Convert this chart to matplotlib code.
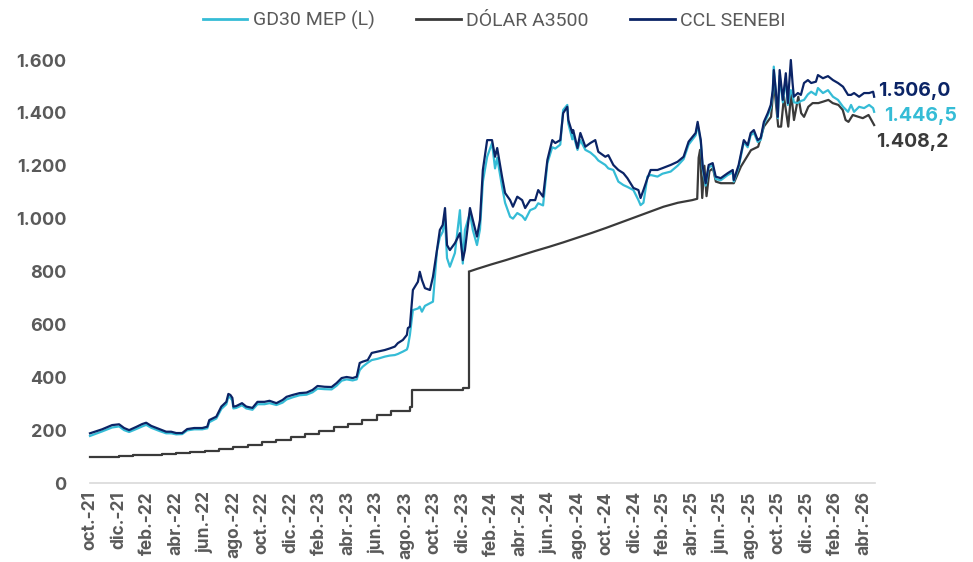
import matplotlib
matplotlib.use("Agg")
import matplotlib.pyplot as plt
from matplotlib.ticker import FuncFormatter, FixedLocator
from matplotlib.lines import Line2D

# ---- x axis: months since 1-Oct-2021 ----
tick_labels = ["oct.-21", "dic.-21", "feb.-22", "abr.-22", "jun.-22", "ago.-22", "oct.-22",
               "dic.-22", "feb.-23", "abr.-23", "jun.-23", "ago.-23", "oct.-23", "dic.-23",
               "feb.-24", "abr.-24", "jun.-24", "ago.-24", "oct.-24", "dic.-24", "feb.-25",
               "abr.-25", "jun.-25", "ago.-25", "oct.-25", "dic.-25", "feb.-26", "abr.-26"]
tick_months = [2 * i for i in range(len(tick_labels))]

# ---- CCL SENEBI and GD30 MEP (same sample dates) ----
t_fin = [0.0, 0.84, 1.54, 2.03, 2.38, 2.73, 3.22, 3.64, 3.92, 4.27, 4.83, 5.31, 5.66, 6.01,
         6.43, 6.78, 7.27, 7.83, 8.18, 8.32, 8.81, 9.16, 9.51, 9.65, 9.79, 9.93, 10.0, 10.2,
         10.6, 10.9, 11.33, 11.68, 12.17, 12.52, 13.0, 13.43, 13.71, 14.13, 14.62, 15.1, 15.52,
         15.87, 16.36, 16.85, 17.2, 17.55, 17.9, 18.32, 18.6, 18.81, 19.02, 19.37, 19.65, 20.07,
         20.56, 20.91, 21.26, 21.47, 21.82, 22.1, 22.17, 22.31, 22.52, 22.87, 23.0, 23.15, 23.36,
         23.71, 23.92, 24.2, 24.4, 24.6, 24.76, 24.9, 25.1, 25.45, 25.8, 26.0, 26.15, 26.5, 26.7,
         26.99, 27.2, 27.4, 27.7, 28.04, 28.25, 28.4, 28.74, 28.95, 29.3, 29.5, 29.8, 30.14,
         30.35, 30.7, 31.05, 31.26, 31.6, 31.9, 32.24, 32.45, 32.8, 33.0, 33.29, 33.36, 33.64,
         33.7, 34.0, 34.2, 34.55, 34.9, 35.24, 35.45, 35.94, 36.15, 36.5, 36.85, 37.2, 37.48,
         37.9, 38.25, 38.4, 38.6, 38.88, 39.1, 39.58, 39.93, 40.5, 40.98, 41.4, 41.75, 42.24,
         42.38, 42.6, 42.73, 42.94, 43.15, 43.43, 43.64, 43.99, 44.48, 44.83, 44.9, 45.24, 45.6,
         45.87, 46.08, 46.3, 46.57, 46.78, 47.0, 47.27, 47.48, 47.62, 47.69, 47.83, 47.97, 48.1,
         48.32, 48.53, 48.67, 48.88, 49.0, 49.09, 49.37, 49.58, 49.8, 50.07, 50.3, 50.63, 50.77,
         51.12, 51.47, 51.82, 52.17, 52.52, 52.87, 53.08, 53.29, 53.64, 53.99, 54.34, 54.62, 54.69]

ccl = [188, 203, 219, 222, 208, 200, 212, 223, 228, 216, 204, 194, 194, 189,
       189, 204, 208, 208, 213, 238, 251, 289, 307, 337, 333, 322, 289, 291,
       302, 289, 284, 307, 307, 311, 302, 314, 326, 333, 340, 342, 352,
       367, 364, 363, 378, 397, 401, 397, 402, 454, 459, 465, 492, 497,
       503, 509, 516, 529, 541, 560, 586, 591, 730, 761, 799, 768, 737,
       730, 780, 881, 957, 976, 1040, 900, 881, 907, 945, 843, 881, 1040, 995,
       932, 995, 1184, 1297, 1297, 1234, 1267, 1158, 1097, 1070, 1045, 1083, 1070,
       1040, 1070, 1070, 1108, 1083, 1222, 1297, 1286, 1297, 1399, 1423, 1373, 1324,
       1335, 1267, 1324, 1272, 1286, 1297, 1253, 1234, 1240, 1203, 1184, 1172, 1153,
       1116, 1108, 1078, 1108, 1153, 1184, 1184, 1191, 1203, 1215, 1234, 1291, 1324,
       1366, 1297, 1200, 1134, 1203, 1210, 1159, 1153, 1172, 1184, 1146, 1203, 1297,
       1278, 1324, 1335, 1297, 1305, 1366, 1399, 1430, 1486, 1562, 1486, 1385, 1562,
       1449, 1550, 1437, 1600, 1513, 1461, 1475, 1468, 1513, 1524, 1513, 1518, 1543,
       1531, 1539, 1524, 1513, 1499, 1468, 1468, 1475, 1461, 1475, 1475, 1480, 1461]

mep = [178, 195, 210, 214, 200, 193, 204, 214, 220, 209, 197, 188, 188, 184,
       185, 199, 203, 203, 207, 230, 244, 280, 298, 327, 322, 312, 282, 284,
       294, 282, 277, 298, 298, 302, 295, 304, 316, 324, 332, 334, 343,
       357, 355, 354, 368, 387, 392, 388, 392, 427, 440, 455, 465, 470,
       478, 482, 484, 488, 497, 505, 516, 560, 654, 660, 667, 648, 670,
       680, 686, 880, 930, 950, 1000, 851, 818, 870, 1032, 830, 957, 1021, 957,
       900, 960, 1140, 1234, 1286, 1190, 1230, 1121, 1060, 1007, 1000, 1021, 1010,
       995, 1032, 1040, 1058, 1050, 1210, 1270, 1265, 1280, 1411, 1430, 1360, 1300,
       1320, 1260, 1297, 1260, 1250, 1234, 1220, 1203, 1190, 1184, 1140, 1127, 1120,
       1108, 1070, 1051, 1060, 1159, 1165, 1159, 1170, 1178, 1200, 1225, 1280, 1315,
       1355, 1290, 1190, 1125, 1195, 1200, 1150, 1145, 1165, 1175, 1140, 1195, 1290,
       1270, 1315, 1325, 1290, 1298, 1358, 1390, 1420, 1480, 1575, 1480, 1380, 1540,
       1440, 1530, 1430, 1486, 1470, 1440, 1437, 1445, 1449, 1470, 1480, 1468, 1494,
       1475, 1486, 1461, 1449, 1423, 1404, 1430, 1404, 1423, 1418, 1430, 1418, 1404]

# ---- DÓLAR A3500: administered stair-step period (to the Dec-2023 devaluation) ----
t_of_step = [0, 1, 2, 3, 4, 5, 6, 7, 8, 9, 10, 11, 12, 13, 14, 15, 16, 17, 18, 19, 20, 21,
             22.3, 22.45, 25.5, 26.0, 26.4, 26.45]
of_step = [98.5, 100, 102.5, 104.5, 106.5, 109.5, 113, 117, 121, 128, 136, 144, 154, 164,
           175, 185, 197, 210, 224, 240, 257, 274, 287, 350, 350, 358, 366, 800]

# ---- DÓLAR A3500: crawling peg and floating band period ----
t_of_band = [26.45, 27, 28, 29, 30, 31, 32, 33, 34, 35, 36, 37, 38, 39, 40, 41, 42, 42.35,
             42.45, 42.55, 42.7, 42.85, 43.0, 43.2, 43.45, 43.65, 44.0, 44.9, 45.4,
             46.1, 46.6, 47.0, 47.5, 47.7, 48.0, 48.2, 48.4, 48.7, 48.9, 49.1, 49.4, 49.6,
             49.8, 50.1, 50.4, 50.8, 51.1, 51.5, 51.8, 52.2, 52.5, 52.7, 52.9, 53.2, 53.6,
             53.9, 54.3, 54.69]
of_band = [800, 810, 827, 843, 860, 877, 893, 910, 928, 946, 965, 985, 1005, 1025, 1045,
           1060, 1070, 1075, 1230, 1260, 1078, 1200, 1085, 1180, 1190, 1140, 1134, 1134, 1197,
           1259, 1272, 1348, 1385, 1513, 1348, 1348, 1461, 1348, 1475, 1373, 1461, 1399,
           1385, 1423, 1437, 1437, 1442, 1449, 1437, 1430, 1411, 1373, 1366, 1392, 1385,
           1380, 1392, 1354]

end_labels = ["1.506,0", "1.446,5", "1.408,2"]
end_label_y = [1482, 1390, 1290]

C_MEP = "#35BCD6"
C_OF = "#3A3A3A"
C_CCL = "#0B2466"
C_TXT = "#5A5A5A"

W, H = 973, 562
fig = plt.figure(figsize=(W / 100, H / 100), dpi=100)
ax = fig.add_axes([90 / W, (H - 483) / H, (875 - 90) / W, (483 - 60) / H])

lw = 1.6
ax.plot(t_of_step, of_step, color=C_OF, lw=lw, drawstyle="steps-post", clip_on=False)
ax.plot(t_of_band, of_band, color=C_OF, lw=lw, clip_on=False)
ax.plot(t_fin, mep, color=C_MEP, lw=lw, clip_on=False)
ax.plot(t_fin, ccl, color=C_CCL, lw=lw, clip_on=False)

ax.set_xlim(0, 54.75)
ax.set_ylim(0, 1600)

for s in ["top", "right", "left"]:
    ax.spines[s].set_visible(False)
ax.spines["bottom"].set_color("#D9D9D9")
ax.spines["bottom"].set_linewidth(1.2)

ax.xaxis.set_major_locator(FixedLocator(tick_months))
ax.set_xticklabels(tick_labels, rotation=90, fontsize=12.5, fontweight="bold",
                   color=C_TXT, family="Inter")
ax.tick_params(axis="x", length=0, pad=6)
ax.set_yticks(range(0, 1601, 200))
ax.yaxis.set_major_formatter(FuncFormatter(lambda v, p: f"{int(v):,}".replace(",", ".")))
ax.tick_params(axis="y", length=0, pad=17, labelsize=13, labelcolor=C_TXT)
for lb in ax.get_yticklabels():
    lb.set_fontweight("bold")
    lb.set_family("Inter")

# end labels
for lab, yv, col, dx in zip(end_labels, end_label_y, [C_CCL, C_MEP, C_OF], [3, 9, 1]):
    ax.text(1.0 + dx / 785, yv, lab, transform=ax.get_yaxis_transform(),
            color=col, fontsize=14, fontweight="bold", family="Inter",
            va="center", ha="left")

handles = [Line2D([], [], color=C_MEP, lw=2), Line2D([], [], color=C_OF, lw=2),
           Line2D([], [], color=C_CCL, lw=2)]
fig.legend(handles, ["GD30 MEP (L)", "DÓLAR A3500", "CCL SENEBI"], loc="upper center",
           bbox_to_anchor=(0.508, 1.012), ncol=3, frameon=False,
           prop={"family": "Roboto", "size": 14}, labelcolor=C_TXT,
           handlelength=2.3, handletextpad=0.3, columnspacing=2.1)

fig.savefig("out.png", dpi=100)
